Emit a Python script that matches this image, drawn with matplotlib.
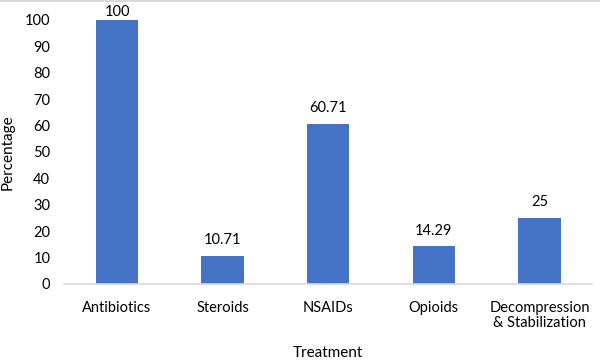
import matplotlib
matplotlib.use("Agg")
import matplotlib.pyplot as plt
from matplotlib.lines import Line2D

plt.rcParams['font.family'] = ['Lato', 'DejaVu Sans']

treatments = ['Antibiotics', 'Steroids', 'NSAIDs', 'Opioids', 'Decompression\n& Stabilization']
percentages = [100, 10.71, 60.71, 14.29, 25]
labels = ['100', '10.71', '60.71', '14.29', '25']

fig = plt.figure(figsize=(6, 3.63), dpi=100)
ax = fig.add_axes([0.107, 0.218, 0.88, 0.727])

x = list(range(len(treatments)))
bars = ax.bar(x, percentages, width=0.4, color='#4472C4', zorder=2)
for b, lab in zip(bars, labels):
    h = b.get_height()
    # Excel pushes the top label down onto the bar edge when it hits the plot top
    off = 0.3 if h >= 95 else 3.2
    ax.text(b.get_x() + b.get_width() / 2, h + off, lab,
            ha='center', va='bottom', fontsize=10.5, color='#000000', clip_on=False)

ax.set_xlim(-0.5, len(treatments) - 0.5)
ax.set_ylim(0, 100)
ax.set_yticks(range(0, 101, 10))
ax.set_xticks(x)
ax.set_xticklabels(treatments, fontsize=10.5, linespacing=1.1)
ax.tick_params(axis='y', length=0, labelsize=10.5, pad=10)
ax.tick_params(axis='x', length=0, pad=12)

for s in ['top', 'right', 'left']:
    ax.spines[s].set_visible(False)
ax.spines['bottom'].set_color('#D9D9D9')
ax.spines['bottom'].set_linewidth(1.2)

ax.set_ylabel('Percentage', fontsize=11, labelpad=7)
ax.set_xlabel('Treatment', fontsize=11, labelpad=12)

# thin grey frame line at the top of the image
fig.add_artist(Line2D([0, 1], [0.997, 0.997], transform=fig.transFigure,
                      color='#D9D9D9', linewidth=1.5))

fig.savefig('out.png', dpi=100)
